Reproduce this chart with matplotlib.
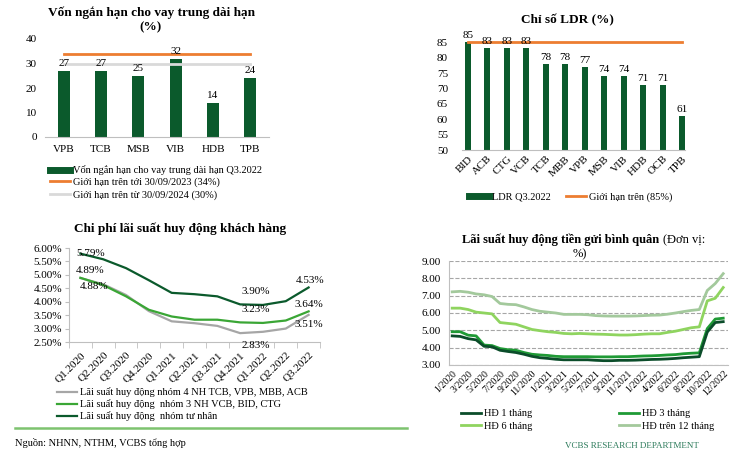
import numpy as np
import matplotlib
matplotlib.use('Agg')
import matplotlib.pyplot as plt
from matplotlib.lines import Line2D

plt.rcParams['font.family'] = ['Liberation Serif', 'DejaVu Serif']

# ---- data: von ngan han cho vay trung dai han ----
st_banks = ['VPB', 'TCB', 'MSB', 'VIB', 'HDB', 'TPB']
st_ratio = [27, 27, 25, 32, 14, 24]
st_cap_2023 = 34
st_cap_2024 = 30

# ---- data: LDR ----
ldr_banks = ['BID', 'ACB', 'CTG', 'VCB', 'TCB', 'MBB', 'VPB', 'MSB', 'VIB', 'HDB', 'OCB', 'TPB']
ldr_vals = [85, 83, 83, 83, 78, 78, 77, 74, 74, 71, 71, 61]
ldr_cap = 85

# ---- data: chi phi lai suat huy dong ----
quarters = ['Q1.2020', 'Q2.2020', 'Q3.2020', 'Q4.2020', 'Q1.2021', 'Q2.2021',
            'Q3.2021', 'Q4.2021', 'Q1.2022', 'Q2.2022', 'Q3.2022']
cof_group4 = [4.88, 4.65, 4.25, 3.65, 3.27, 3.20, 3.10, 2.83, 2.88, 3.00, 3.51]
cof_group3 = [4.89, 4.62, 4.20, 3.70, 3.45, 3.33, 3.33, 3.23, 3.21, 3.30, 3.64]
cof_private = [5.79, 5.58, 5.25, 4.80, 4.33, 4.28, 4.20, 3.90, 3.88, 4.02, 4.53]

# ---- data: lai suat huy dong binh quan ----
month_ticks = ['1/2020', '3/2020', '5/2020', '7/2020', '9/2020', '11/2020', '1/2021',
               '3/2021', '5/2021', '7/2021', '9/2021', '11/2021', '1/2022', '4/2022',
               '6/2022', '8/2022', '10/2022', '12/2022']
dep_1m = [4.68, 4.65, 4.52, 4.45, 4.08, 4.05, 3.85, 3.78, 3.72, 3.62, 3.50, 3.42,
          3.38, 3.33, 3.30, 3.30, 3.30, 3.30, 3.27, 3.25, 3.25, 3.27, 3.27, 3.28,
          3.30, 3.32, 3.33, 3.35, 3.38, 3.42, 3.45, 3.48, 4.90, 5.45, 5.50]
dep_3m = [4.92, 4.92, 4.72, 4.68, 4.15, 4.12, 3.95, 3.88, 3.85, 3.72, 3.62, 3.58,
          3.55, 3.50, 3.48, 3.48, 3.48, 3.48, 3.47, 3.47, 3.47, 3.48, 3.48, 3.50,
          3.52, 3.53, 3.55, 3.58, 3.60, 3.65, 3.68, 3.70, 5.10, 5.65, 5.70]
dep_6m = [6.28, 6.28, 6.20, 6.05, 6.00, 5.95, 5.45, 5.40, 5.35, 5.20, 5.05, 4.98,
          4.92, 4.88, 4.82, 4.80, 4.82, 4.80, 4.78, 4.77, 4.75, 4.73, 4.73, 4.75,
          4.78, 4.80, 4.80, 4.88, 4.95, 5.05, 5.15, 5.20, 6.70, 6.85, 7.47]
dep_12m = [7.22, 7.25, 7.20, 7.10, 7.05, 6.95, 6.55, 6.50, 6.48, 6.35, 6.20, 6.10,
           6.05, 6.00, 5.92, 5.92, 5.92, 5.90, 5.85, 5.83, 5.82, 5.82, 5.82, 5.83,
           5.85, 5.87, 5.88, 5.93, 6.00, 6.08, 6.15, 6.20, 7.30, 7.70, 8.27]

DARK = '#0b5a2c'
ORANGE = '#ed7d31'
GRAY = '#d9d9d9'
W, H = 750, 459


def box(x0, y0, x1, y1):
    # pixel box (top-left origin) -> figure fraction rect
    return [x0 / W, 1 - y1 / H, (x1 - x0) / W, (y1 - y0) / H]


def px(x, y):
    return (x / W, 1 - y / H)


fig = plt.figure(figsize=(7.5, 4.59), dpi=100)

# ================= top-left =================
ax1 = fig.add_axes(box(45, 39, 269, 137))
x1 = np.arange(len(st_banks))
ax1.bar(x1, st_ratio, width=0.32, color=DARK, zorder=2)
ax1.plot(x1, [st_cap_2023] * len(x1), color=ORANGE, lw=2, zorder=3)
ax1.plot(x1, [st_cap_2024] * len(x1), color=GRAY, lw=2, zorder=3)
for xi, v in zip(x1, st_ratio):
    ax1.annotate(str(v), (xi, v), xytext=(0, 2), textcoords='offset points',
                 ha='center', va='bottom', fontsize=8)
ax1.set_xlim(-0.5, 5.5)
ax1.set_ylim(0, 40)
ax1.set_yticks([0, 10, 20, 30, 40])
ax1.set_xticks(x1)
ax1.set_xticklabels(st_banks)
for s in ['top', 'right', 'left']:
    ax1.spines[s].set_visible(False)
ax1.spines['bottom'].set_color('#bfbfbf')
ax1.tick_params(length=0, labelsize=8, pad=6)
ax1.tick_params(axis='y', pad=6)
fig.text(*px(151, 20), 'Vốn ngắn hạn cho vay trung dài hạn\n(%)', ha='center', va='center',
         fontsize=9.5, fontweight='bold', linespacing=1.3)
h1 = [Line2D([], [], color=DARK, lw=5),
      Line2D([], [], color=ORANGE, lw=2),
      Line2D([], [], color=GRAY, lw=2)]
fig.legend(h1, ['Vốn ngắn hạn cho vay trung dài hạn Q3.2022',
                'Giới hạn trên tới 30/09/2023 (34%)',
                'Giới hạn trên từ 30/09/2024 (30%)'],
           loc='upper left', bbox_to_anchor=px(46, 161), frameon=False, fontsize=7.5,
           handlelength=1.9, handletextpad=0.3, labelspacing=0.25, borderaxespad=0)

# ================= top-right =================
ax2 = fig.add_axes(box(462, 33, 685, 150))
x2 = np.arange(len(ldr_banks))
ax2.bar(x2, ldr_vals, width=0.3, color=DARK, zorder=2)
ax2.plot(x2, [ldr_cap] * len(x2), color=ORANGE, lw=2, zorder=3)
for xi, v in zip(x2, ldr_vals):
    ax2.annotate(str(v), (xi, v), xytext=(0, 1.5), textcoords='offset points',
                 ha='center', va='bottom', fontsize=8)
ax2.set_xlim(-0.3, 11.15)
ax2.set_ylim(50, 88)
ax2.set_yticks(range(50, 90, 5))
ax2.set_xticks(x2)
ax2.set_xticklabels(ldr_banks, rotation=45, ha='right', rotation_mode='anchor')
for s in ['top', 'right', 'left']:
    ax2.spines[s].set_visible(False)
ax2.spines['bottom'].set_color('#bfbfbf')
ax2.tick_params(length=0, labelsize=8)
ax2.tick_params(axis='y', pad=10)
ax2.tick_params(axis='x', pad=3)
fig.text(*px(567, 20), 'Chỉ số LDR (%)', ha='center', va='center',
         fontsize=9.5, fontweight='bold')
h2 = [Line2D([], [], color=DARK, lw=5), Line2D([], [], color=ORANGE, lw=2)]
fig.legend(h2, ['LDR Q3.2022', 'Giới hạn trên (85%)'], loc='upper left',
           bbox_to_anchor=px(465, 188), frameon=False, fontsize=7.5, ncol=2,
           handlelength=1.9, handletextpad=0.3, columnspacing=1.5, borderaxespad=0)

# ================= bottom-left =================
ax3 = fig.add_axes(box(69, 248, 320, 342))
x3 = np.arange(len(quarters))
ax3.plot(x3, cof_group4, color='#a6a6a6', lw=1.6, solid_joinstyle='round')
ax3.plot(x3, cof_group3, color='#3aa635', lw=1.6, solid_joinstyle='round')
ax3.plot(x3, cof_private, color='#0b5a2c', lw=1.6, solid_joinstyle='round')
ax3.set_xlim(-0.5, 10.5)
ax3.set_ylim(2.5, 6.0)
ax3.set_yticks(np.arange(2.5, 6.01, 0.5))
ax3.set_yticklabels(['%.2f%%' % v for v in np.arange(2.5, 6.01, 0.5)])
ax3.set_xticks(x3)
ax3.set_xticklabels(quarters, rotation=45, ha='right', rotation_mode='anchor')
ax3.set_xticks(np.arange(-0.5, 10.6, 1), minor=True)
ax3.tick_params(axis='x', which='major', length=0, pad=6)
ax3.tick_params(axis='x', which='minor', length=4, color='#bfbfbf')
ax3.tick_params(axis='y', length=3, color='#bfbfbf', pad=2)
ax3.tick_params(labelsize=8)
for s in ['top', 'right']:
    ax3.spines[s].set_visible(False)
for s in ['left', 'bottom']:
    ax3.spines[s].set_color('#bfbfbf')


def lab(i, series, dx, dy):
    ax3.annotate('%.2f%%' % series[i], (i, series[i]), xytext=(dx, dy),
                 textcoords='offset points', ha='center', va='center', fontsize=8,
                 annotation_clip=False)


lab(0, cof_private, 7, 0)
lab(0, cof_group3, 7, 5)
lab(0, cof_group4, 10, -6)
lab(7, cof_private, 11, 9)
lab(7, cof_group3, 11, 9)
lab(7, cof_group4, 11, -9)
lab(10, cof_private, 1, 5)
lab(10, cof_group3, 0, 5)
lab(10, cof_group4, 0, -7)
fig.text(*px(180, 229), 'Chi phí lãi suất huy động khách hàng', ha='center', va='center',
         fontsize=9.5, fontweight='bold')
h3 = [Line2D([], [], color='#a6a6a6', lw=1.6),
      Line2D([], [], color='#3aa635', lw=1.6),
      Line2D([], [], color='#0b5a2c', lw=1.6)]
fig.legend(h3, ['Lãi suất huy động nhóm 4 NH TCB, VPB, MBB, ACB',
                'Lãi suất huy động  nhóm 3 NH VCB, BID, CTG',
                'Lãi suất huy động  nhóm tư nhân'],
           loc='upper left', bbox_to_anchor=px(53, 383), frameon=False, fontsize=7.5,
           handlelength=1.9, handletextpad=0.3, labelspacing=0.2, borderaxespad=0)

# ================= bottom-right =================
ax4 = fig.add_axes(box(449, 261, 728, 365))
x4 = np.arange(len(dep_1m))
series4 = [(dep_1m, '#0b4d2a', 'HĐ 1 tháng'), (dep_3m, '#1f9a35', 'HĐ 3 tháng'),
           (dep_6m, '#8fd45f', 'HĐ 6 tháng'), (dep_12m, '#a3c99c', 'HĐ trên 12 tháng')]
lines4 = {}
for ys, c, name in series4[::-1]:
    ln, = ax4.plot(x4, ys, color=c, lw=2, label=name, solid_joinstyle='round')
    lines4[name] = ln
ax4.set_xlim(-0.4, 34.6)
ax4.set_ylim(3, 9)
ax4.set_yticks(range(3, 10))
ax4.set_yticklabels(['%.2f' % v for v in range(3, 10)])
ax4.set_xticks(np.arange(0, len(month_ticks) * 2, 2))
ax4.set_xticklabels(month_ticks, rotation=45, ha='right', rotation_mode='anchor')
ax4.grid(axis='y', ls='--', color='#a6a6a6', lw=0.8)
ax4.set_axisbelow(True)
ax4.tick_params(length=0, labelsize=8)
ax4.tick_params(axis='x', labelsize=7, pad=3)
ax4.tick_params(axis='y', pad=6)
for s in ['top', 'right']:
    ax4.spines[s].set_visible(False)
for s in ['left', 'bottom']:
    ax4.spines[s].set_color('#bfbfbf')
t4 = fig.text(*px(462, 240), 'Lãi suất huy động tiền gửi bình quân', ha='left', va='center',
              fontsize=9, fontweight='bold')
ax4.annotate('(Đơn vị:', xy=(1, 0.5), xycoords=t4, xytext=(3, 0), textcoords='offset points',
             ha='left', va='center', fontsize=9)
fig.text(*px(580, 254), '%)', ha='center', va='center', fontsize=9)
# legend rows: 1 | 3 ; 6 | 12  (column-major fill)
leg_order = ['HĐ 1 tháng', 'HĐ 6 tháng', 'HĐ 3 tháng', 'HĐ trên 12 tháng']
fig.legend([lines4[n] for n in leg_order], leg_order, loc='upper left',
           bbox_to_anchor=px(457, 405), frameon=False, fontsize=7.5, ncol=2,
           handlelength=1.9, handletextpad=0.3, columnspacing=8.3, labelspacing=0.3,
           borderaxespad=0)

# ================= footer =================
fig.add_artist(Line2D([15 / W, 407 / W], [1 - 428 / H, 1 - 428 / H], color='#7dc36f', lw=1.8))
fig.text(*px(15, 443), 'Nguồn: NHNN, NTHM, VCBS tổng hợp', ha='left', va='center', fontsize=7.5)
fig.text(*px(632, 446), 'VCBS RESEARCH DEPARTMENT', ha='center', va='center', fontsize=6.5,
         color='#2b7a5a')

fig.savefig('out.png', dpi=100)
